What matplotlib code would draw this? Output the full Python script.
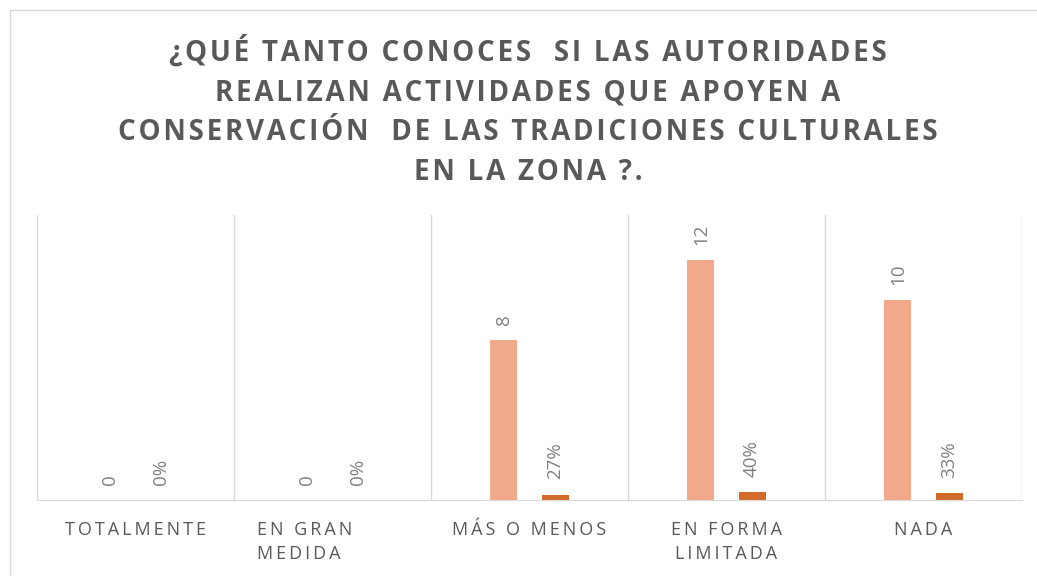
import matplotlib.pyplot as plt
import matplotlib.transforms as mtransforms
import numpy as np

# Data
categories = ["TOTALMENTE", "EN GRAN\nMEDIDA", "MÁS O MENOS", "EN FORMA\nLIMITADA", "NADA"]
counts = [0, 0, 8, 12, 10]
shares = [0.0, 0.0, 0.27, 0.40, 0.33]
title = ("¿QUÉ TANTO CONOCES  SI LAS AUTORIDADES\n"
         "REALIZAN ACTIVIDADES QUE APOYEN A\n"
         "CONSERVACIÓN  DE LAS TRADICIONES CULTURALES\n"
         "EN LA ZONA ?.")

plt.rcParams['font.family'] = ['Open Sans', 'DejaVu Sans']


def spaced(s, sep="\u200a"):
    # crude letter spacing
    return "\n".join(sep.join(line) for line in s.split("\n"))


fig = plt.figure(figsize=(10.37, 5.76), dpi=100)
ax = fig.add_axes([37 / 1037, 76 / 576, 985 / 1037, 285 / 576])

x = np.arange(len(categories))
w = 0.137
off = 0.13
b1 = ax.bar(x - off, counts, w, color="#F1A98A")
b2 = ax.bar(x + off, shares, w, color="#D26A2A")

for rect, v in zip(b1, counts):
    ax.annotate(str(v), (rect.get_x() + rect.get_width() / 2, rect.get_height()),
                xytext=(0, 11), textcoords="offset points", rotation=90,
                ha="center", va="bottom", fontsize=13.5, color="#7F7F7F")
for rect, v in zip(b2, shares):
    ax.annotate(f"{v:.0%}", (rect.get_x() + rect.get_width() / 2, rect.get_height()),
                xytext=(0, 11), textcoords="offset points", rotation=90,
                ha="center", va="bottom", fontsize=13.5, color="#7F7F7F")

ax.set_xlim(-0.5, len(categories) - 0.5)
ax.set_ylim(0, 14.25)
for xv in np.arange(-0.5, len(categories), 1.0):
    ax.axvline(xv, color="#D9D9D9", lw=1, zorder=0)
for s in ["top", "left", "right"]:
    ax.spines[s].set_visible(False)
ax.spines["bottom"].set_color("#D9D9D9")
ax.set_yticks([])
ax.set_xticks(x)
labels = ax.set_xticklabels([spaced(c, "\u2009") for c in categories], fontsize=13,
                            color="#595959", linespacing=1.45)
ax.tick_params(axis="x", length=0, pad=15)
# second label sits left-aligned and shifted left in the original
labels[1].set_multialignment("left")
labels[1].set_transform(labels[1].get_transform() +
                        mtransforms.ScaledTranslation(-0.28, 0, fig.dpi_scale_trans))

fig.text(0.509, 1 - 35 / 576, spaced(title, "\u200a"), ha="center", va="top",
         fontsize=20, fontweight="bold", color="#595959", linespacing=1.5)

# chart border
fig.add_artist(plt.Line2D([10 / 1037, 10 / 1037], [0, 1 - 10 / 576],
                          transform=fig.transFigure, color="#D9D9D9", lw=1))
fig.add_artist(plt.Line2D([10 / 1037, 1], [1 - 10 / 576, 1 - 10 / 576],
                          transform=fig.transFigure, color="#D9D9D9", lw=1))

fig.savefig("out.png", dpi=100)
